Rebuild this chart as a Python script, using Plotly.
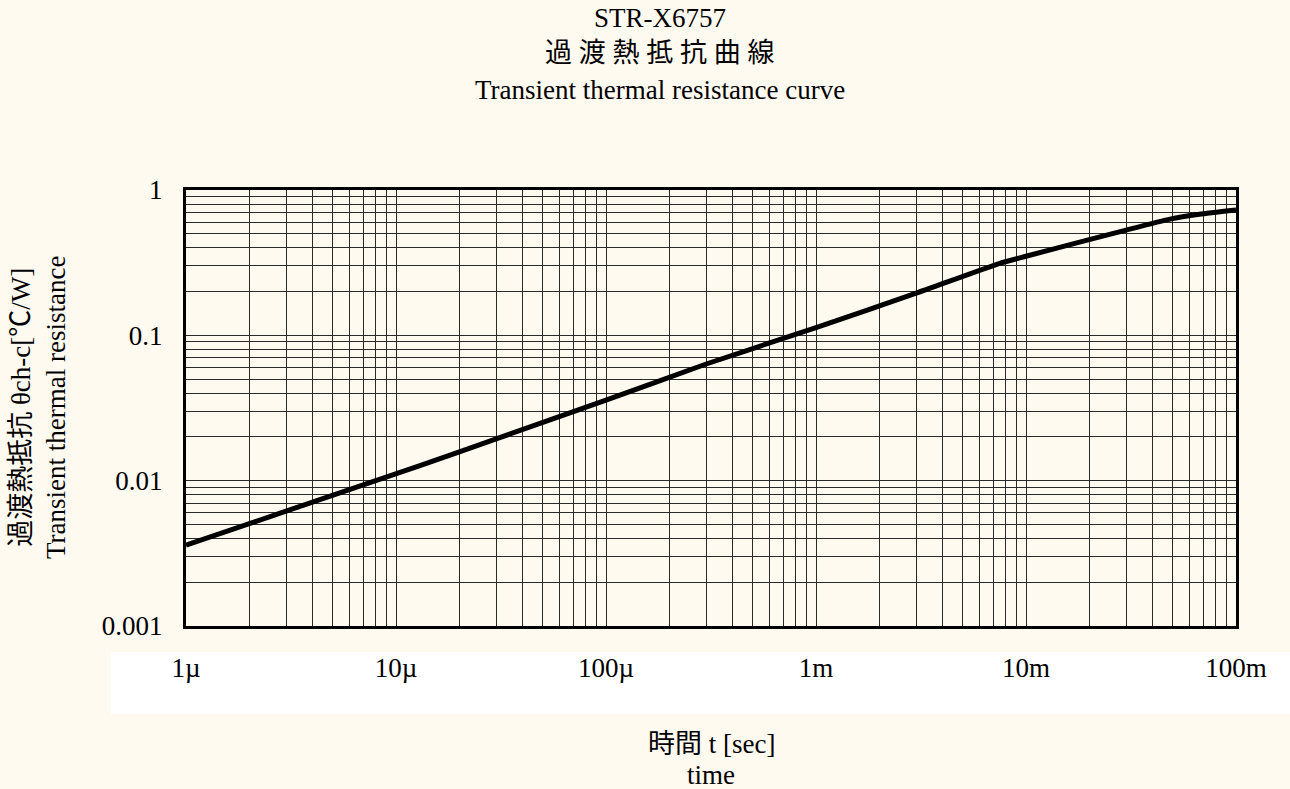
import plotly.graph_objects as go

# ---- data ----
time_s = [1e-6, 1.3e-5, 3e-5, 1e-4, 3e-4, 1e-3, 3e-3, 7.5e-3, 1e-2, 2e-2, 3e-2, 4.85e-2, 6.7e-2, 1e-1]
theta = [0.0036, 0.0127, 0.0194, 0.0358, 0.0635, 0.113, 0.195, 0.313, 0.35, 0.455, 0.53, 0.63, 0.68, 0.728]

x_decades = [1e-6, 1e-5, 1e-4, 1e-3, 1e-2, 1e-1]
x_labels = ["1µ", "10µ", "100µ", "1m", "10m", "100m"]
y_decades = [0.001, 0.01, 0.1, 1]
y_labels = ["0.001", "0.01", "0.1", "1"]

title_lines = ["STR-X6757", "過 渡 熱 抵 抗 曲 線", "Transient thermal resistance curve"]
ytitle_lines = ["過渡熱抵抗 θch-c[℃/W]", "Transient thermal resistance"]
xtitle_lines = ["時間 t [sec]", "time"]

FONT = "Liberation Serif, Times New Roman, Noto Sans CJK JP, serif"
BG = "#FFFAF0"
GRID = "#2a2a2a"
FS = 27

def full_ticks(decades, labels):
    vals, texts = [], []
    for i, d in enumerate(decades):
        vals.append(d)
        texts.append(labels[i])
        if i < len(decades) - 1:
            for m in range(2, 10):
                vals.append(d * m)
                texts.append("")
    return vals, texts

xv, xt = full_ticks(x_decades, x_labels)
yv, yt = full_ticks(y_decades, y_labels)

fig = go.Figure()
fig.add_trace(go.Scatter(
    x=time_s, y=theta, mode="lines",
    line=dict(color="black", width=5, shape="spline", smoothing=0.5),
    showlegend=False, hoverinfo="skip",
))

L, R, T, B = 186, 54, 190, 163
W, H = 1290, 789
pw = W - L - R
ph = H - T - B

fig.update_layout(
    width=W, height=H,
    margin=dict(l=L, r=R, t=T, b=B),
    paper_bgcolor=BG, plot_bgcolor=BG,
    font=dict(family=FONT, size=FS, color="black"),
    showlegend=False,
)

fig.update_xaxes(
    type="log", range=[-6, -1],
    tickmode="array", tickvals=xv, ticktext=xt,
    showgrid=True, gridcolor=GRID, gridwidth=1,
    showline=True, linecolor="black", linewidth=3, mirror=True,
    ticks="", ticklabelstandoff=16, zeroline=False,
    tickfont=dict(family=FONT, size=FS, color="black"),
)
fig.update_yaxes(
    type="log", range=[-3, 0],
    tickmode="array", tickvals=yv, ticktext=yt,
    showgrid=True, gridcolor=GRID, gridwidth=1,
    showline=True, linecolor="black", linewidth=3, mirror=True,
    ticks="", ticklabelstandoff=15, zeroline=False,
    tickfont=dict(family=FONT, size=FS, color="black"),
)

# white band behind x tick labels
fig.add_shape(
    type="rect", xref="paper", yref="paper",
    x0=(111 - L) / pw, x1=(1290 - L) / pw,
    y0=-(714 - (T + ph)) / ph, y1=-(652 - (T + ph)) / ph,
    fillcolor="white", line=dict(width=0), layer="below",
)

def px_x(px):
    return (px - L) / pw

def px_y(py):
    return 1 - (py - T) / ph

# title lines
for txt, ypx in zip(title_lines, [18, 53, 90]):
    fig.add_annotation(
        text=txt, xref="paper", yref="paper", x=px_x(660), y=px_y(ypx),
        xanchor="center", yanchor="middle", showarrow=False,
        font=dict(family=FONT, size=FS, color="black"),
    )

# y axis title (rotated, two lines)
fig.add_annotation(
    text="<br>".join(ytitle_lines), xref="paper", yref="paper",
    x=px_x(38), y=px_y(408), xanchor="center", yanchor="middle",
    textangle=-90, showarrow=False,
    font=dict(family=FONT, size=FS, color="black"),
)

# x axis title lines
for txt, ypx in zip(xtitle_lines, [744, 775]):
    fig.add_annotation(
        text=txt, xref="paper", yref="paper", x=px_x(711), y=px_y(ypx),
        xanchor="center", yanchor="middle", showarrow=False,
        font=dict(family=FONT, size=FS, color="black"),
    )

fig.write_html(
    "out.html",
    config={"displayModeBar": False},
    post_script="document.body.style.margin='0';document.body.style.overflow='hidden';",
)
